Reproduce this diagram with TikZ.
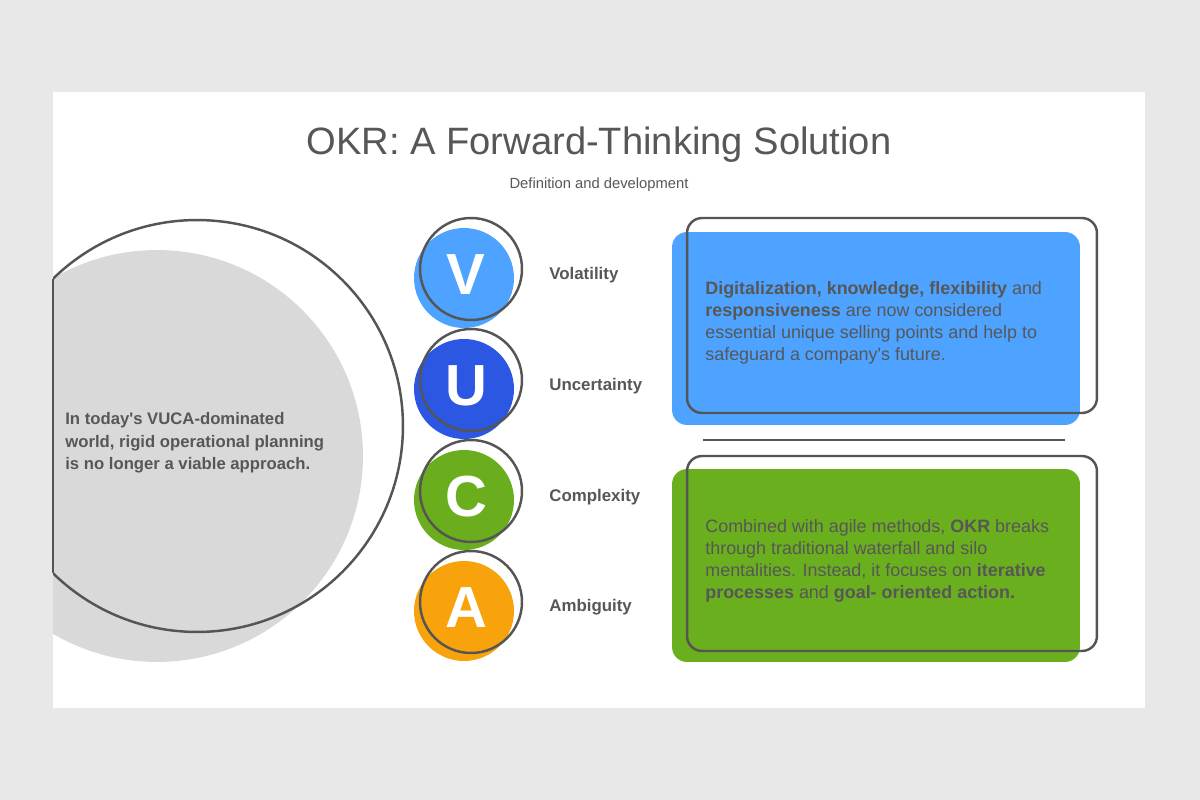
\documentclass[tikz,border=0pt]{standalone}
\usepackage{fontspec}
\setmainfont{Liberation Sans}
\definecolor{bg}{HTML}{E9E8E9}
\definecolor{txt}{HTML}{575757}
\definecolor{edge}{HTML}{555555}
\definecolor{bigfill}{HTML}{D9D9D9}
\definecolor{cV}{HTML}{4DA3FF}
\definecolor{cU}{HTML}{2B57E2}
\definecolor{cC}{HTML}{6AAE1E}
\definecolor{cA}{HTML}{F8A30C}
\definecolor{boxblue}{HTML}{4DA3FF}
\definecolor{boxgreen}{HTML}{6AAF1D}
\begin{document}
\begin{tikzpicture}[x=0.02cm,y=-0.02cm,
  fillcirc/.style={circle, minimum size=2cm, inner sep=0pt},
  ringcirc/.style={circle, draw=edge, line width=1.4pt, minimum size=2.04cm, inner sep=0pt},
  letter/.style={text=white, inner sep=0pt, font=\fontsize{33}{33}\selectfont\bfseries},
  vlabel/.style={anchor=west, text=txt, inner sep=0pt, font=\fontsize{9.6}{11}\selectfont\bfseries},
  card/.style={rounded corners=0.3cm, minimum width=8.16cm, minimum height=3.86cm, inner sep=0pt},
  cardring/.style={draw=edge, line width=1.4pt, rounded corners=0.3cm, minimum width=8.2cm, minimum height=3.9cm, inner sep=0pt},
  body/.style={anchor=west, align=left, text=txt, inner sep=0pt, font=\fontsize{10.2}{12.5}\selectfont},
  edgeline/.style={draw=edge, line width=1.4pt}
]
% background and slide
\fill[bg] (0,0) rectangle (1200,800);
\useasboundingbox (0,0) rectangle (1200,800);
\fill[white] (53,92) rectangle (1145,708);

% title
\node[text=txt, inner sep=0pt, font=\fontsize{21.7}{24}\selectfont] (title) at (599,145) {OKR: A Forward-Thinking Solution};
\node[text=txt, inner sep=0pt, font=\fontsize{8.4}{10}\selectfont] (subtitle) at (599,185) {Definition and development};

% big circles
\begin{scope}
  \clip (53,92) rectangle (1145,708);
  \fill[bigfill] (157,456) circle[radius=4.12cm];
  \draw[edgeline] (197,426) circle[radius=4.12cm];
\end{scope}
\coordinate (cutTop) at (53,279);
\coordinate (cutBot) at (53,573);
\draw[edgeline] (cutTop) -- (cutBot);

\node[anchor=west, align=left, text=txt, inner sep=0pt, font=\fontsize{9.5}{12.75}\selectfont\bfseries] (lefttext) at (65,443)
  {In today\textquotesingle s VUCA-dominated\\world, rigid operational planning\\is no longer a viable approach.};

% VUCA circles
\node[fillcirc, fill=cV] (vF) at (464,278) {};
\node[fillcirc, fill=cU] (uF) at (464,389) {};
\node[fillcirc, fill=cC] (cF) at (464,500) {};
\node[fillcirc, fill=cA] (aF) at (464,611) {};
\node[letter] (vL) at (466,275) {V};
\node[letter] (uL) at (466,386) {U};
\node[letter] (cL) at (466,497) {C};
\node[letter] (aL) at (466,608) {A};
\node[ringcirc] (vO) at (471,269) {};
\node[ringcirc] (uO) at (471,380) {};
\node[ringcirc] (cO) at (471,491) {};
\node[ringcirc] (aO) at (471,602) {};

\node[vlabel] (vT) at (549,275) {Volatility};
\node[vlabel] (uT) at (549,386) {Uncertainty};
\node[vlabel] (cT) at (549,497) {Complexity};
\node[vlabel] (aT) at (549,607) {Ambiguity};

% cards
\node[card, fill=boxblue] (blueF) at (876,328.5) {};
\node[card, fill=boxgreen] (greenF) at (876,565.5) {};
\node[body] (blueT) at (705,323)
  {\textbf{Digitalization, knowledge, flexibility} and\\\textbf{responsiveness} are now considered\\essential unique selling points and help to\\safeguard a company\textquotesingle s future.};
\node[body] (greenT) at (705,561)
  {Combined with agile methods, \textbf{OKR} breaks\\through traditional waterfall and silo\\mentalities. Instead, it focuses on \textbf{iterative}\\\textbf{processes} and \textbf{goal- oriented action.}};
\node[cardring] (blueO) at (892,315.5) {};
\node[cardring] (greenO) at (892,553.5) {};

\coordinate (sepL) at (703,440);
\coordinate (sepR) at (1065,440);
\draw[edgeline] (sepL) -- (sepR);
\end{tikzpicture}
\end{document}
